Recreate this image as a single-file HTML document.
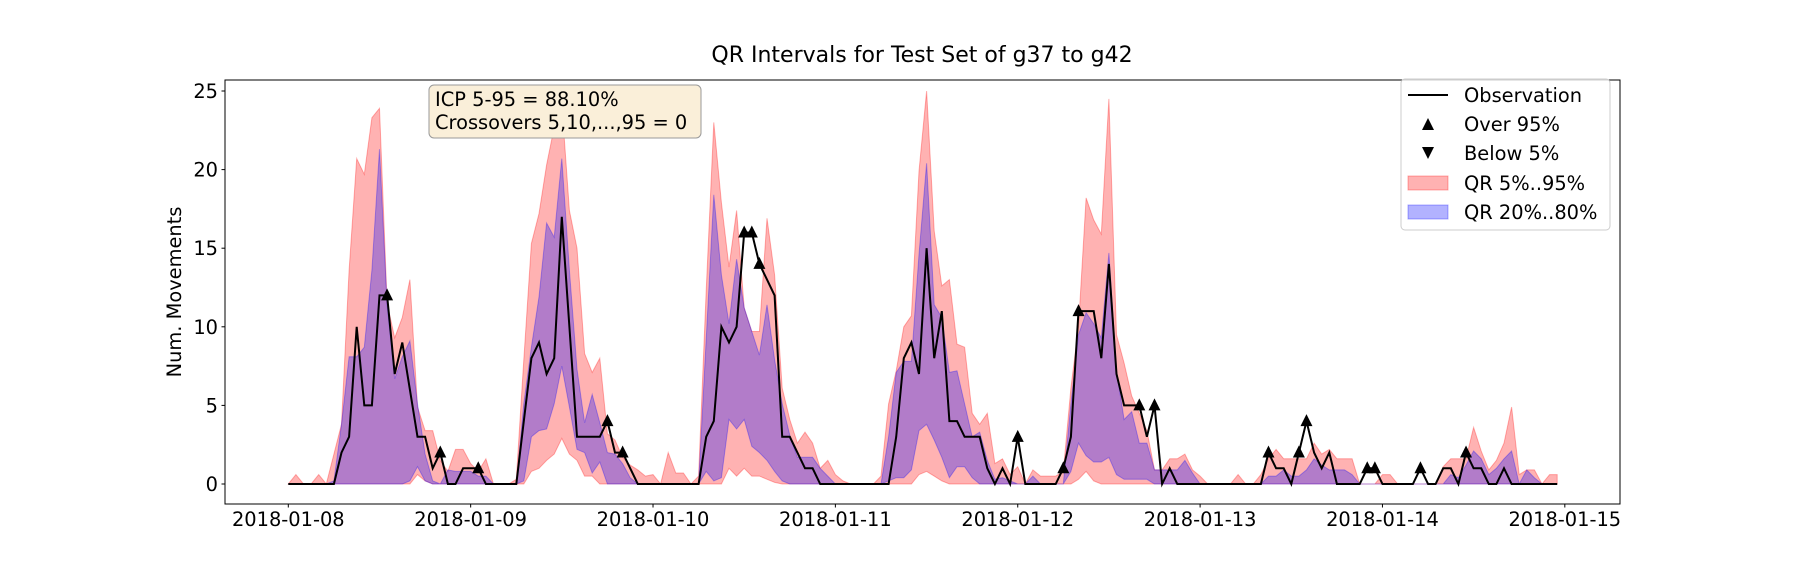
<!DOCTYPE html>
<html><head><meta charset="utf-8"><style>
html,body{margin:0;padding:0;background:#fff;}
svg{display:block;font-family:"DejaVu Sans","Liberation Sans",sans-serif;}
</style></head><body>
<svg id="chart" width="1800" height="576" viewBox="0 0 1800 576" xmlns="http://www.w3.org/2000/svg">
<rect x="0" y="0" width="1800" height="576" fill="#fff"/>
<text x="922" y="62" font-size="22" text-anchor="middle" fill="#000">QR Intervals for Test Set of g37 to g42</text>
<g id="plot"></g>
<rect x="225" y="80" width="1395" height="424" fill="none" stroke="#000" stroke-width="1"/>
<g id="yticks"></g>
<g id="xticks"></g>
<text transform="translate(181,292) rotate(-90)" font-size="19.4" text-anchor="middle" fill="#000">Num. Movements</text>
<g>
<rect x="429" y="85" width="272" height="53" rx="5" fill="#faefd9" stroke="#999" stroke-width="1"/>
<text x="435" y="106" font-size="19.4" fill="#000">ICP 5-95 = 88.10%</text>
<text x="435" y="129" font-size="19.4" fill="#000">Crossovers 5,10,...,95 = 0</text>
</g>
<g>
<rect x="1401" y="79" width="209" height="151" rx="4" fill="#fff" fill-opacity="0.8" stroke="#ccc" stroke-width="1"/>
<g>
<line x1="1408" y1="95" x2="1448" y2="95" stroke="#000" stroke-width="2"/>
<text x="1464" y="102" font-size="19.4" fill="#000">Observation</text></g>
<g>
<polygon points="1428,118 1422,130 1434,130" fill="#000"/>
<text x="1464" y="131" font-size="19.4" fill="#000">Over 95%</text></g>
<g>
<polygon points="1428,159 1422,147 1434,147" fill="#000"/>
<text x="1464" y="160" font-size="19.4" fill="#000">Below 5%</text></g>
<g>
<rect x="1408" y="176" width="40" height="14" fill="rgba(255,0,0,0.3)" stroke="rgba(255,0,0,0.3)"/>
<text x="1464" y="190" font-size="19.4" fill="#000">QR 5%..95%</text></g>
<g>
<rect x="1408" y="205" width="40" height="14" fill="rgba(0,0,255,0.3)" stroke="rgba(0,0,255,0.3)"/>
<text x="1464" y="219" font-size="19.4" fill="#000">QR 20%..80%</text></g>
</g>
</svg>
<script>
const xTickLabels = ["2018-01-08","2018-01-09","2018-01-10","2018-01-11","2018-01-12","2018-01-13","2018-01-14","2018-01-15"];
const yTickValues = [0,5,10,15,20,25];
const observation = [
0,0,0,0,0,0,0,2,3,10,5,5,12,12,7,9,6,3,3,1,2,0,0,1,
1,1,0,0,0,0,0,4,8,9,7,8,17,10,3,3,3,3,4,2,2,1,0,0,
0,0,0,0,0,0,0,3,4,10,9,10,16,16,14,13,12,3,3,2,1,1,0,0,
0,0,0,0,0,0,0,0,3,8,9,7,15,8,11,4,4,3,3,3,1,0,1,0,
3,0,0,0,0,0,1,3,11,11,11,8,14,7,5,5,5,3,5,0,1,0,0,0,
0,0,0,0,0,0,0,0,0,2,1,1,0,2,4,2,1,2,0,0,0,0,1,1,
0,0,0,0,0,1,0,0,1,1,0,2,1,1,0,0,1,0,0,0,0,0,0,0];
const q95 = [
0,0.6,0,0,0.6,0,1.9,3.8,13.6,20.7,19.7,23.3,23.9,11.5,9.3,10.6,13,4.9,3.4,3.4,1.5,0.8,2.2,2.2,
1.3,0.8,1.6,0,0,0,0.3,7.9,15.3,17.2,20.3,22.7,24.2,17.4,15,8.3,7.1,8,3.2,2.8,1.7,1.2,0.9,0.5,
0.6,0,2,0.7,0.7,0,0.5,12.3,23,17.9,13.8,17.4,11.2,9.7,9.7,16.9,13.3,6.1,4.1,2.6,3.3,2.6,1,1.5,
0.6,0.2,0,0,0,0,0.5,5.1,7.2,10,10.7,19.9,25,16.1,12.6,13,8.9,8.7,4.5,3.8,4.5,1.3,1.6,0.6,
1.1,0,0.9,0.5,0.5,0.5,0.8,6.1,10,18.2,16.8,15.9,24.5,9.5,7.7,5.6,4.5,3.4,0.9,0.9,1.6,1.6,1.9,0.9,
0.5,0,0,0,0,0.6,0,0,0.6,1.6,2.2,1.6,1.6,1.6,1.6,2.6,1.9,2.2,1.6,1.6,1.6,0,0,0,
0.6,0.6,0,0,0,0,0,0,1.1,1.6,1.6,1.6,3.6,2.1,0.9,1.5,2.6,4.9,0.6,0.9,0.9,0,0.6,0.6];
const q80 = [
0,0,0,0,0,0,0.2,3.8,8.1,8.1,8.7,13.6,21.3,11.4,6.7,8.1,9.1,5.1,1.9,0.2,0,0.9,0.8,0.8,
0.8,0.5,0.5,0,0,0,0,5.1,8.7,11.9,16.6,15.7,20.7,13.6,7.3,3.9,5.7,3.9,2,1.9,1.3,0.4,0,0,
0,0,0,0,0,0,0,9.2,18.4,13.3,10.2,14.3,11.2,9.7,8.2,11.4,7.9,5.1,3.1,1.7,1.7,1.7,1,0.5,
0,0,0,0,0,0,0,3,7.1,7.8,7.8,14.6,20.4,11.4,10.6,7.1,7.2,5.1,3,3.3,1.5,0.3,0.4,0.2,
0,0,0.5,0,0,0,0,5.1,9.5,10.9,10.2,9.3,14.7,7.2,4.1,4.6,2.6,2.6,0.9,0.9,0.9,0.9,1.5,0.7,
0,0,0,0,0,0,0,0,0,0.5,0.5,0.9,0.5,0.5,0.9,1.6,1.2,0.9,0.9,0.9,0.6,0,0,0,
0,0,0,0,0,0,0,0,0,0.6,0.4,1.2,2.1,1.6,0.6,1,1.6,2.1,0,0.9,0.4,0,0,0];
const q20 = [
0,0,0,0,0,0,0,0,0,0,0,0,0,0,0,0,0.2,1.1,0.2,0,0,0,0,0,
0,0,0,0,0,0,0,0.2,3,3.4,3.5,5.1,7.5,4.9,2.2,2,0.7,1.4,0,0,0,0,0,0,
0,0,0,0,0,0,0,0.8,0.2,0.4,4.1,3.5,4.1,2.4,2,1.5,0.8,0.2,0,0,0,0,0,0,
0,0,0,0,0,0,0,0.2,0.4,0.4,0.9,3.4,3.8,2.8,1.7,0.4,1.1,1.1,0.4,0,0,0,0,0,
0,0,0,0,0,0,0,0.8,2.6,1.8,1.4,1.4,1.7,0.6,0.3,0.3,0.3,0.3,0,0,0,0,0,0,
0,0,0,0,0,0,0,0,0,0,0,0,0,0,0,0,0,0,0,0,0,0,0,0,
0,0,0,0,0,0,0,0,0,0,0,0,0,0,0,0,0,0,0,0,0,0,0,0];
const q5 = [
0,0,0,0,0,0,0,0,0,0,0,0,0,0,0,0,0,0.6,0.2,0,0,0,0,0,
0,0,0,0,0,0,0,0,0.8,1,1.5,1.9,2.9,1.9,1.5,0.5,0.5,0,0,0,0,0,0,0,
0,0,0,0,0,0,0,0,0,0,1,0.5,1,0.5,0.5,0.3,0.1,0,0,0,0,0,0,0,
0,0,0,0,0,0,0,0,0,0,0,0.6,0.8,0.5,0.2,0,0,0,0,0,0,0,0,0,
0,0,0,0,0,0,0,0,0.3,0.8,0.2,0,0,0,0,0,0,0,0,0,0,0,0,0,
0,0,0,0,0,0,0,0,0,0,0,0,0,0,0,0,0,0,0,0,0,0,0,0,
0,0,0,0,0,0,0,0,0,0,0,0,0,0,0,0,0,0,0,0,0,0,0,0];

const NS = "http://www.w3.org/2000/svg";
const X0 = 288.3, DAYPX = 182.36;
function xDay(d){ return X0 + d*DAYPX; }
function xHour(h){ return X0 + h*DAYPX/24; }
function yVal(v){ return 484 - v*15.72; }
function mk(tag, attrs, parent){ const e=document.createElementNS(NS,tag); for(const k in attrs) e.setAttribute(k,attrs[k]); parent.appendChild(e); return e; }
const plot = document.getElementById('plot');

function band(lo, hi, fill, stroke, name){
  let pts=[];
  for(let i=0;i<hi.length;i++) pts.push(xHour(i).toFixed(1)+","+yVal(hi[i]).toFixed(1));
  for(let i=lo.length-1;i>=0;i--) pts.push(xHour(i).toFixed(1)+","+yVal(lo[i]).toFixed(1));
  const p = mk('polygon',{points:pts.join(' '),fill:fill,stroke:stroke,'stroke-width':1},plot);
  
  
}
band(q5, q95, 'rgba(255,0,0,0.3)', 'rgba(255,0,0,0.3)', 'band-qr-5-95');
band(q20, q80, 'rgba(0,0,255,0.3)', 'rgba(0,0,255,0.3)', 'band-qr-20-80');

let lp=[];
for(let i=0;i<observation.length;i++) lp.push(xHour(i).toFixed(1)+","+yVal(observation[i]).toFixed(1));
const line = mk('polyline',{points:lp.join(' '),fill:'none',stroke:'#000','stroke-width':2,'stroke-linejoin':'miter'},plot);



for(let i=0;i<observation.length;i++){
  const x=xHour(i), y=yVal(observation[i]);
  if(observation[i] > q95[i]){
    const t = mk('polygon',{points:`${x},${y-7} ${x-6},${y+5} ${x+6},${y+5}`,fill:'#000'},plot);
    
    
  } else if(observation[i] < q5[i]){
    const t = mk('polygon',{points:`${x},${y+7} ${x-6},${y-5} ${x+6},${y-5}`,fill:'#000'},plot);
    
    
  }
}

const yg = document.getElementById('yticks');
yTickValues.forEach(v=>{
  const y=yVal(v);
  mk('line',{x1:221.5,y1:y,x2:225,y2:y,stroke:'#000','stroke-width':1},yg);
  const t = mk('text',{x:218,y:y+7,'font-size':19.4,'text-anchor':'end',fill:'#000'},yg);
  t.textContent = v;
  
  
});
const xg = document.getElementById('xticks');
xTickLabels.forEach((lab,i)=>{
  const x=xDay(i);
  mk('line',{x1:x,y1:504,x2:x,y2:507.5,stroke:'#000','stroke-width':1},xg);
  const t = mk('text',{x:x,y:526,'font-size':19.4,'text-anchor':'middle',fill:'#000'},xg);
  t.textContent = lab;
  
  
});
</script>
</body></html>
